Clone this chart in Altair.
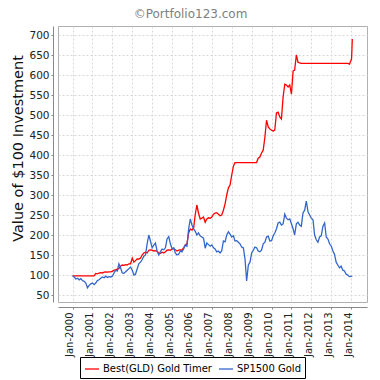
import altair as alt
import pandas as pd

series_names = ["Best(GLD) Gold Timer", "SP1500 Gold"]
series_colors = ["#ff0000", "#3366cc"]

# monthly readings Jan-2000 .. Dec-2013
month_starts = pd.date_range("2000-01-01", "2013-12-01", freq="MS")

red_monthly = [
    98, 98, 98, 98, 98, 98, 98, 98, 98, 98, 98, 98,
    98, 98, 104, 103, 105, 106, 105, 107, 108, 107, 108, 108,
    109, 112, 113, 115, 116, 122, 125, 124, 126, 125, 128, 128,
    142, 132, 136, 140, 140, 142, 150, 155, 157, 155, 162, 163,
    162, 160, 161, 159, 155, 154, 157, 155, 158, 162, 163, 162,
    165, 166, 163, 160, 162, 163, 162, 168, 175, 178, 205, 215,
    212, 218, 250, 275, 255, 240, 242, 245, 232, 240, 243, 242,
    245, 252, 255, 256, 252, 248, 250, 262, 278, 300, 318, 325,
    350, 372, 381, 381, 381, 381, 381, 381, 381, 381, 381, 381,
    381, 381, 381, 381, 392, 395, 405, 412, 445, 487, 470, 465,
    462, 460, 462, 505, 507, 495, 490, 545, 577, 575, 570, 575,
    552, 610, 612, 650, 632, 630, 629, 629, 629, 629, 629, 629,
    629, 629, 629, 629, 629, 629, 629, 629, 629, 629, 629, 629,
    629, 629, 629, 629, 629, 629, 629, 629, 629, 629, 629, 627,
]
red_tail_dates = ["2014-01-08", "2014-01-15", "2014-01-22"]
red_tail = [640, 662, 690]

blue_monthly = [
    98, 95, 90, 92, 88, 91, 86, 84, 80, 68, 74, 78,
    80, 76, 80, 86, 88, 92, 95, 93, 97, 94, 96, 95,
    97, 105, 112, 110, 128, 118, 105, 104, 108, 112, 116, 120,
    112, 100, 102, 115, 128, 132, 138, 147, 150, 178, 200, 185,
    168, 175, 180, 160, 150, 158, 165, 163, 168, 190, 196, 178,
    165, 168, 155, 150, 152, 160, 158, 165, 175, 172, 215, 240,
    225, 215, 210, 200, 205, 198, 195, 192, 167, 180, 176, 172,
    175, 168, 165, 158, 160, 155, 160, 185, 183, 200, 208, 202,
    195, 198, 185, 186, 182, 178, 170, 168, 140, 85, 125, 132,
    155, 162, 170, 168, 160, 158, 162, 178, 182, 195, 197, 185,
    186, 198, 205, 215, 230, 232, 225, 228, 252, 242, 238, 240,
    228, 215, 200, 228, 232, 225, 222, 255, 262, 285, 258, 250,
    242, 238, 200, 188, 182, 195, 198, 222, 230, 195, 190, 178,
    172, 160, 152, 132, 125, 118, 122, 112, 110, 102, 100, 96,
]
blue_tail_dates = ["2014-01-22"]
blue_tail = [97]

y_ticks = list(range(50, 701, 50))
x_tick_years = list(range(2000, 2015))

red_dates = list(month_starts) + [pd.Timestamp(d) for d in red_tail_dates]
blue_dates = list(month_starts) + [pd.Timestamp(d) for d in blue_tail_dates]

df = pd.concat([
    pd.DataFrame({"date": red_dates, "value": red_monthly + red_tail,
                  "series": series_names[0]}),
    pd.DataFrame({"date": blue_dates, "value": blue_monthly + blue_tail,
                  "series": series_names[1]}),
], ignore_index=True)

FONT = "DejaVu Sans"

chart = alt.Chart(df).mark_line(strokeWidth=1.3).encode(
    x=alt.X(
        "date:T",
        title=None,
        scale=alt.Scale(domain=[alt.DateTime(year=1999, month=4, date=9),
                                alt.DateTime(year=2014, month=10, date=19)]),
        axis=alt.Axis(
            values=[alt.DateTime(year=y, month=1, date=1) for y in x_tick_years],
            format="%b-%Y", labelAngle=270, labelAlign="right",
            labelBaseline="alphabetic", labelFontSize=10, labelPadding=3,
            offset=5, labelOverlap=False,
        ),
    ),
    y=alt.Y(
        "value:Q",
        title="Value of $100 Investment",
        scale=alt.Scale(domain=[32.5, 722.5], nice=False, zero=False),
        axis=alt.Axis(values=y_ticks, labelFontSize=10.5, offset=5,
                      labelPadding=2, titleFontSize=14.5, titlePadding=3,
                      titleY=122),
    ),
    color=alt.Color(
        "series:N",
        scale=alt.Scale(domain=series_names, range=series_colors),
        legend=alt.Legend(
            title=None, orient="none", legendX=22, legendY=331,
            direction="horizontal", strokeColor="#000", fillColor="white",
            padding=4, symbolType="stroke", symbolStrokeWidth=1.3,
            symbolSize=196, labelFontSize=10, labelFont=FONT,
            labelColor="#000", columnPadding=4, labelOffset=3,
        ),
    ),
).properties(
    width=309, height=276,
    autosize=alt.AutoSizeParams(type="none"),
    padding={"left": 50, "top": 18, "right": 5, "bottom": 78},
    title=alt.TitleParams("©Portfolio123.com", fontSize=12, color="#808080",
                          font=FONT, fontWeight="normal", anchor="middle",
                          dx=-22, offset=5),
).configure_axis(
    domainColor="#888888", tickColor="#888888", tickSize=2,
    labelColor="#222222", labelFont=FONT, titleFont=FONT,
    titleFontWeight="normal", titleColor="#111111",
    gridColor="#d8d8d8", gridDash=[2, 2], gridWidth=1,
).configure_view(stroke="#b0b0b0", strokeWidth=1)

chart.save("out.html", embed_options={"renderer": "svg", "actions": False})
